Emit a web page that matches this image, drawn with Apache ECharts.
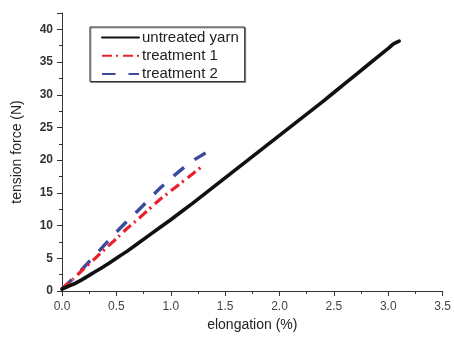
<!DOCTYPE html>
<html>
<head>
<meta charset="utf-8">
<script src="https://cdn.jsdelivr.net/npm/echarts@6/dist/echarts.min.js"></script>
<style>html,body{margin:0;padding:0;background:#fff}#c{width:454px;height:337px}</style>
</head>
<body>
<div id="c"></div>
<script>
var seriesNames = ['untreated yarn', 'treatment 1', 'treatment 2'];
var untreatedX = [0, 0.1, 0.2, 0.3, 0.4, 0.5, 0.6, 0.8, 1.0, 1.2, 1.4, 1.6, 1.8, 2.0, 2.2, 2.4, 2.6, 2.8, 3.0, 3.05, 3.1];
var untreatedY = [0.3, 1.0, 1.9, 2.9, 3.9, 5.0, 6.1, 8.5, 10.9, 13.4, 16.0, 18.6, 21.2, 23.8, 26.4, 29.0, 31.7, 34.4, 37.1, 37.8, 38.2];
var t1X = [0, 0.1, 0.2, 0.3, 0.4, 0.5, 0.6, 0.7, 0.8, 0.9, 1.0, 1.1, 1.2, 1.3];
var t1Y = [0.3, 1.8, 3.4, 4.9, 6.5, 8.0, 9.6, 11.0, 12.5, 14.0, 15.3, 16.6, 17.9, 19.2];
var t2X = [0, 0.1, 0.2, 0.3, 0.4, 0.5, 0.6, 0.7, 0.8, 0.9, 1.0, 1.1, 1.2, 1.3, 1.32];
var t2Y = [0.3, 1.9, 3.6, 5.4, 7.2, 9.0, 10.7, 12.3, 14.0, 15.7, 17.2, 18.6, 19.9, 20.9, 21.1];
var xTicks = [0, 0.5, 1.0, 1.5, 2.0, 2.5, 3.0, 3.5];
var yTicks = [0, 5, 10, 15, 20, 25, 30, 35, 40];

function pairs(xs, ys) { return xs.map(function (x, i) { return [x, ys[i]]; }); }

var chart = echarts.init(document.getElementById('c'));
var font = '"Liberation Sans", Arial, sans-serif';
chart.setOption({
  animation: false,
  backgroundColor: '#fff',
  grid: { left: 62, right: 8, top: 13, bottom: 42 },
  legend: {
    orient: 'vertical', left: 90, top: 27,
    data: seriesNames,
    itemWidth: 37, itemHeight: 14, itemGap: 3.3,
    padding: [3, 6, 0, 11],
    itemStyle: { opacity: 0 },
    backgroundColor: '#fff', borderColor: '#222', borderWidth: 1,
    shadowColor: 'rgba(0,0,0,0.35)', shadowOffsetX: 1, shadowOffsetY: 1, shadowBlur: 0,
    textStyle: { fontFamily: font, fontSize: 15, lineHeight: 15, color: '#222', padding: [0, 0, 0, -2] }
  },
  xAxis: {
    type: 'value', min: 0, max: 3.5, interval: 0.5,
    name: 'elongation (%)', nameLocation: 'middle', nameGap: 27,
    nameTextStyle: { fontFamily: font, fontSize: 14, color: '#222' },
    axisLine: { show: true, onZero: false, lineStyle: { color: '#333', width: 1 } },
    axisTick: { show: true, inside: false, length: 5, lineStyle: { color: '#333' } },
    minorTick: { show: true, splitNumber: 2, length: 3, lineStyle: { color: '#333' } },
    splitLine: { show: false },
    axisLabel: { fontFamily: font, fontSize: 12, color: '#444', margin: 10,
      formatter: function (v) { return xTicks.indexOf(v) >= 0 ? v.toFixed(1) : ''; } }
  },
  yAxis: {
    type: 'value', min: 0, max: 42.5, interval: 5,
    name: 'tension force (N)', nameLocation: 'middle', nameGap: 38,
    nameTextStyle: { fontFamily: font, fontSize: 14, color: '#222' },
    axisLine: { show: true, onZero: false, lineStyle: { color: '#333', width: 1 } },
    axisTick: { show: true, inside: false, length: 5, lineStyle: { color: '#333' } },
    minorTick: { show: true, splitNumber: 2, length: 3, lineStyle: { color: '#333' } },
    splitLine: { show: false },
    axisLabel: { fontFamily: font, fontSize: 12, fontWeight: 'bold', color: '#333', margin: 9,
      formatter: function (v) { return yTicks.indexOf(v) >= 0 ? String(v) : ''; } }
  },
  series: [
    { name: seriesNames[0], type: 'line', data: pairs(untreatedX, untreatedY), symbol: 'none', smooth: 0.15,
      lineStyle: { color: '#111', width: 3.6, cap: 'round' }, itemStyle: { color: '#111' }, z: 3 },
    { name: seriesNames[1], type: 'line', data: pairs(t1X, t1Y), symbol: 'none', smooth: 0.15,
      lineStyle: { color: '#e8222c', width: 3.2, type: [10, 4, 2, 5] }, itemStyle: { color: '#e8222c' }, z: 2 },
    { name: seriesNames[2], type: 'line', data: pairs(t2X, t2Y), symbol: 'none', smooth: 0.15,
      lineStyle: { color: '#3b4a9c', width: 3.4, type: [13.5, 13] }, itemStyle: { color: '#3b4a9c' }, z: 1 }
  ]
});
</script>
</body>
</html>
